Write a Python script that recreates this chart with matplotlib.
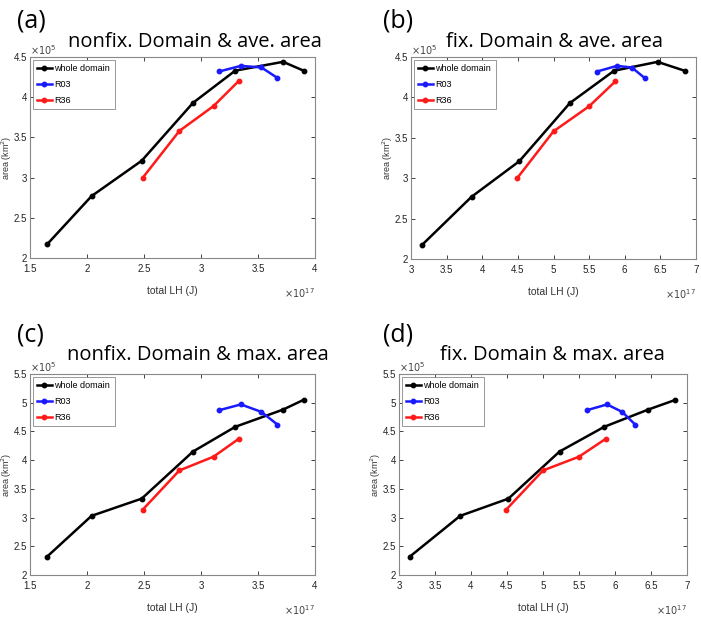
import matplotlib.pyplot as plt
import matplotlib.font_manager as fm
from matplotlib.ticker import FuncFormatter

# total LH (x1e17 J)
lh_whole_nonfix = [1.65, 2.04, 2.48, 2.93, 3.30, 3.72, 3.90]
lh_r03_nonfix = [3.16, 3.35, 3.53, 3.67]
lh_r36_nonfix = [2.49, 2.81, 3.11, 3.33]
lh_whole_fix = [3.15, 3.85, 4.52, 5.23, 5.85, 6.46, 6.84]
lh_r03_fix = [5.61, 5.89, 6.10, 6.28]
lh_r36_fix = [4.49, 5.00, 5.50, 5.87]

# area (x1e5 km^2)
ave_whole = [2.17, 2.77, 3.21, 3.93, 4.33, 4.44, 4.33]
ave_r03 = [4.32, 4.39, 4.37, 4.24]
ave_r36 = [3.00, 3.58, 3.89, 4.20]
max_whole = [2.32, 3.03, 3.33, 4.15, 4.58, 4.88, 5.05]
max_r03 = [4.87, 4.97, 4.84, 4.62]
max_r36 = [3.14, 3.82, 4.06, 4.37]

names = ["whole domain", "R03", "R36"]
colors = ["black", "#1a1aff", "#ff1a1a"]

installed = {f.name for f in fm.fontManager.ttflist}
tick_font = ["Liberation Sans Narrow"] if "Liberation Sans Narrow" in installed else []
tick_font += ["Liberation Sans", "DejaVu Sans"]
title_font = ["Open Sans", "DejaVu Sans"]

W, H = 701, 633
fig = plt.figure(figsize=(W / 100, H / 100), dpi=100)


def px_rect(left, top, right, bottom):
    # pixel box -> figure fraction rect
    return [left / W, 1 - bottom / H, (right - left) / W, (bottom - top) / H]


# tag, tag pos (px), title, title center (px), axes box (px), data, limits
panels = [
    ("(a)", (17, 21), "nonfix. Domain & ave. area", (195, 42), (30, 57, 315, 258),
     [lh_whole_nonfix, lh_r03_nonfix, lh_r36_nonfix], [ave_whole, ave_r03, ave_r36],
     (1.5, 4), (2, 4.5)),
    ("(b)", (383, 21), "fix. Domain & ave. area", (555, 42), (411, 57, 696, 259),
     [lh_whole_fix, lh_r03_fix, lh_r36_fix], [ave_whole, ave_r03, ave_r36],
     (3, 7), (2, 4.5)),
    ("(c)", (17, 335), "nonfix. Domain & max. area", (198, 355), (30, 374, 315, 575),
     [lh_whole_nonfix, lh_r03_nonfix, lh_r36_nonfix], [max_whole, max_r03, max_r36],
     (1.5, 4), (2, 5.5)),
    ("(d)", (383, 335), "fix. Domain & max. area", (552, 355), (399, 374, 687, 575),
     [lh_whole_fix, lh_r03_fix, lh_r36_fix], [max_whole, max_r03, max_r36],
     (3, 7), (2, 5.5)),
]

fmt = FuncFormatter(lambda v, p: "%g" % round(v, 3))

for tag, tpos, title, cpos, box, xs, ys, xlim, ylim in panels:
    ax = fig.add_axes(px_rect(*box))
    for x, y, c, n in zip(xs, ys, colors, names):
        ax.plot(x, y, "-o", color=c, lw=1.8, ms=3.2, label=n)
    ax.set_xlim(*xlim)
    ax.set_ylim(*ylim)
    ax.xaxis.set_major_formatter(fmt)
    ax.yaxis.set_major_formatter(fmt)
    ax.tick_params(direction="in", top=True, right=True, length=3, width=0.6,
                   labelsize=7, colors="#222222")
    ax.tick_params(axis="x", pad=4)
    ax.tick_params(axis="y", pad=2)
    for lab in ax.get_xticklabels() + ax.get_yticklabels():
        lab.set_family(tick_font)
    for s in ax.spines.values():
        s.set_color("#888888")
        s.set_linewidth(0.8)
    ax.set_xlabel("total LH (J)", fontsize=7.5, family=tick_font, color="#333333")
    ax.set_ylabel("area (km$^2$)", fontsize=6.5, family=tick_font, color="#333333")
    aw = box[2] - box[0]
    ah = box[3] - box[1]
    ax.xaxis.set_label_coords(0.5, -28 / ah)
    ax.yaxis.set_label_coords(-16 / aw, 0.5)
    ax.text(0.0, 1.0 + 7 / ah, r"$\times10^5$", transform=ax.transAxes, fontsize=7,
            color="#444444", va="center", ha="left")
    ax.text(1.0, -35 / ah, r"$\times10^{17}$", transform=ax.transAxes, fontsize=7,
            color="#444444", va="center", ha="right")
    leg = ax.legend(loc="upper left", prop={"family": tick_font, "size": 6.5},
                    handlelength=1.6, handletextpad=0.3, borderpad=0.5, labelspacing=0.75,
                    borderaxespad=0.3, fancybox=False, edgecolor="#888888", framealpha=1)
    leg.get_frame().set_linewidth(0.6)
    fig.text(tpos[0] / W, 1 - tpos[1] / H, tag, fontsize=18, family=title_font,
             va="center", ha="left")
    fig.text(cpos[0] / W, 1 - cpos[1] / H, title, fontsize=14.5, family=title_font,
             va="center", ha="center")

fig.savefig("out.png", dpi=100)
